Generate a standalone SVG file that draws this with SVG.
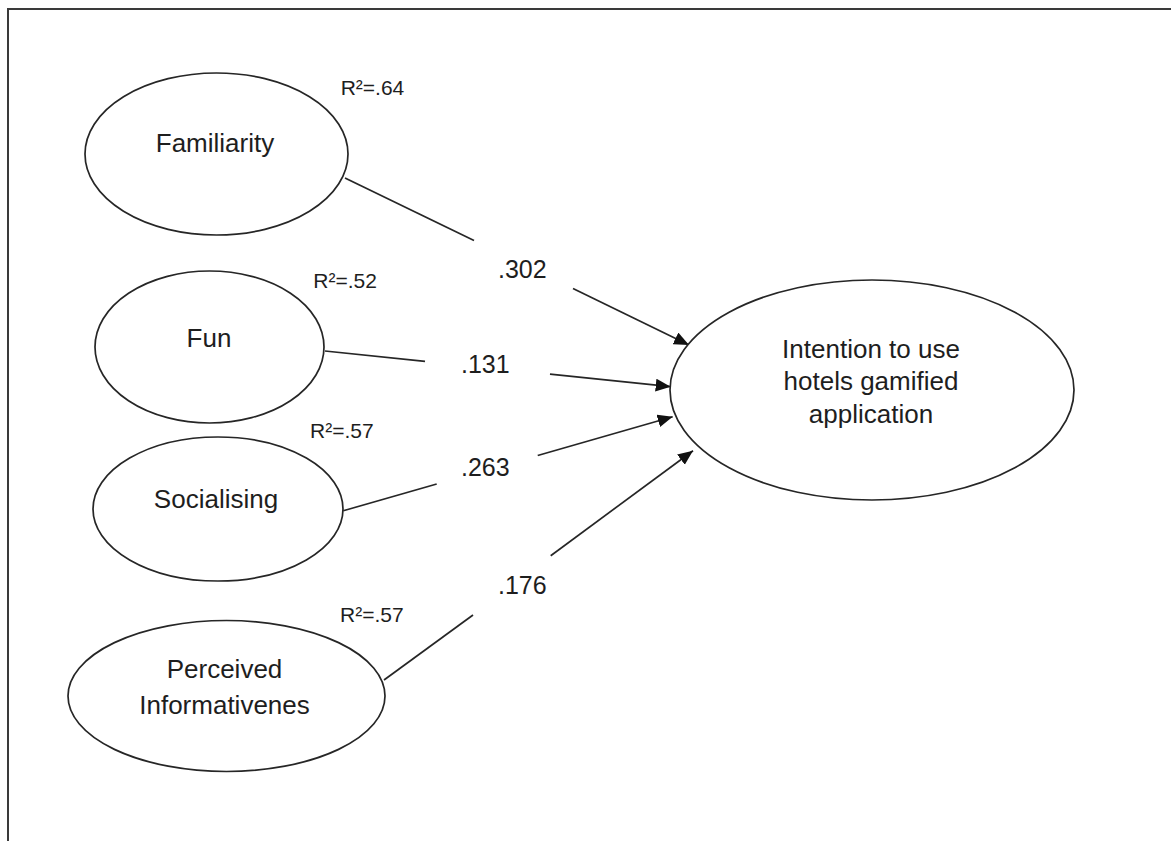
<svg xmlns="http://www.w3.org/2000/svg" width="1171" height="841" viewBox="0 0 1171 841">
<style>
.node{fill:#fff;stroke:#262626;stroke-width:1.7}
.lbl{font-family:"Liberation Sans",Arial,sans-serif;font-size:26px;fill:#1e1e1e;text-anchor:middle}
.r2{font-family:"Liberation Sans",Arial,sans-serif;font-size:21px;fill:#1e1e1e}
.coef{font-family:"Liberation Sans",Arial,sans-serif;font-size:25px;fill:#1e1e1e}
.edge{stroke:#262626;stroke-width:1.7;fill:none}
</style>
<defs>
<marker id="arr" markerUnits="userSpaceOnUse" markerWidth="16" markerHeight="14" refX="15" refY="6.5" orient="auto">
<path d="M0,0 L15,6.5 L0,13 z" fill="#111"/>
</marker>
</defs>
<rect x="0" y="0" width="1171" height="841" fill="#fff"/>
<path d="M8,841 L8,9 L1171,9" fill="none" stroke="#3a3a3a" stroke-width="2"/>

<g id="connectors">
<line class="edge" x1="345" y1="178" x2="474" y2="240.6"/>
<line class="edge" x1="573" y1="288.6" x2="689" y2="345" marker-end="url(#arr)"/>
<line class="edge" x1="325" y1="351" x2="425" y2="361.3"/>
<line class="edge" x1="550" y1="374.2" x2="670.7" y2="386.7" marker-end="url(#arr)"/>
<line class="edge" x1="343.3" y1="510.7" x2="436.7" y2="484"/>
<line class="edge" x1="537.7" y1="455.5" x2="672.7" y2="416.7" marker-end="url(#arr)"/>
<line class="edge" x1="384" y1="680" x2="473" y2="615"/>
<line class="edge" x1="550.7" y1="555.7" x2="693" y2="450.7" marker-end="url(#arr)"/>
<text class="coef" x="498" y="278">.302</text>
<text class="coef" x="461" y="373">.131</text>
<text class="coef" x="461" y="476">.263</text>
<text class="coef" x="498" y="594">.176</text>
</g>

<g id="familiarity">
<ellipse class="node" cx="216.5" cy="154" rx="131.5" ry="81"/>
<text class="lbl" x="215" y="152">Familiarity</text>
<text class="r2" x="340.7" y="95">R²=.64</text>
</g>

<g id="fun">
<ellipse class="node" cx="209.5" cy="347" rx="114.5" ry="76"/>
<text class="lbl" x="209" y="347">Fun</text>
<text class="r2" x="313.3" y="288">R²=.52</text>
</g>

<g id="socialising">
<ellipse class="node" cx="218" cy="509" rx="125" ry="72"/>
<text class="lbl" x="216" y="508">Socialising</text>
<text class="r2" x="310" y="438">R²=.57</text>
</g>

<g id="perceived">
<ellipse class="node" cx="226.5" cy="696" rx="158.5" ry="75.5"/>
<text class="lbl" x="224.5" y="678">Perceived</text>
<text class="lbl" x="224.5" y="714">Informativenes</text>
<text class="r2" x="340" y="622">R²=.57</text>
</g>

<g id="intention">
<ellipse class="node" cx="872" cy="390" rx="202" ry="110"/>
<text class="lbl" x="871" y="358">Intention to use</text>
<text class="lbl" x="871" y="390">hotels gamified</text>
<text class="lbl" x="871" y="423">application</text>
</g>
</svg>
